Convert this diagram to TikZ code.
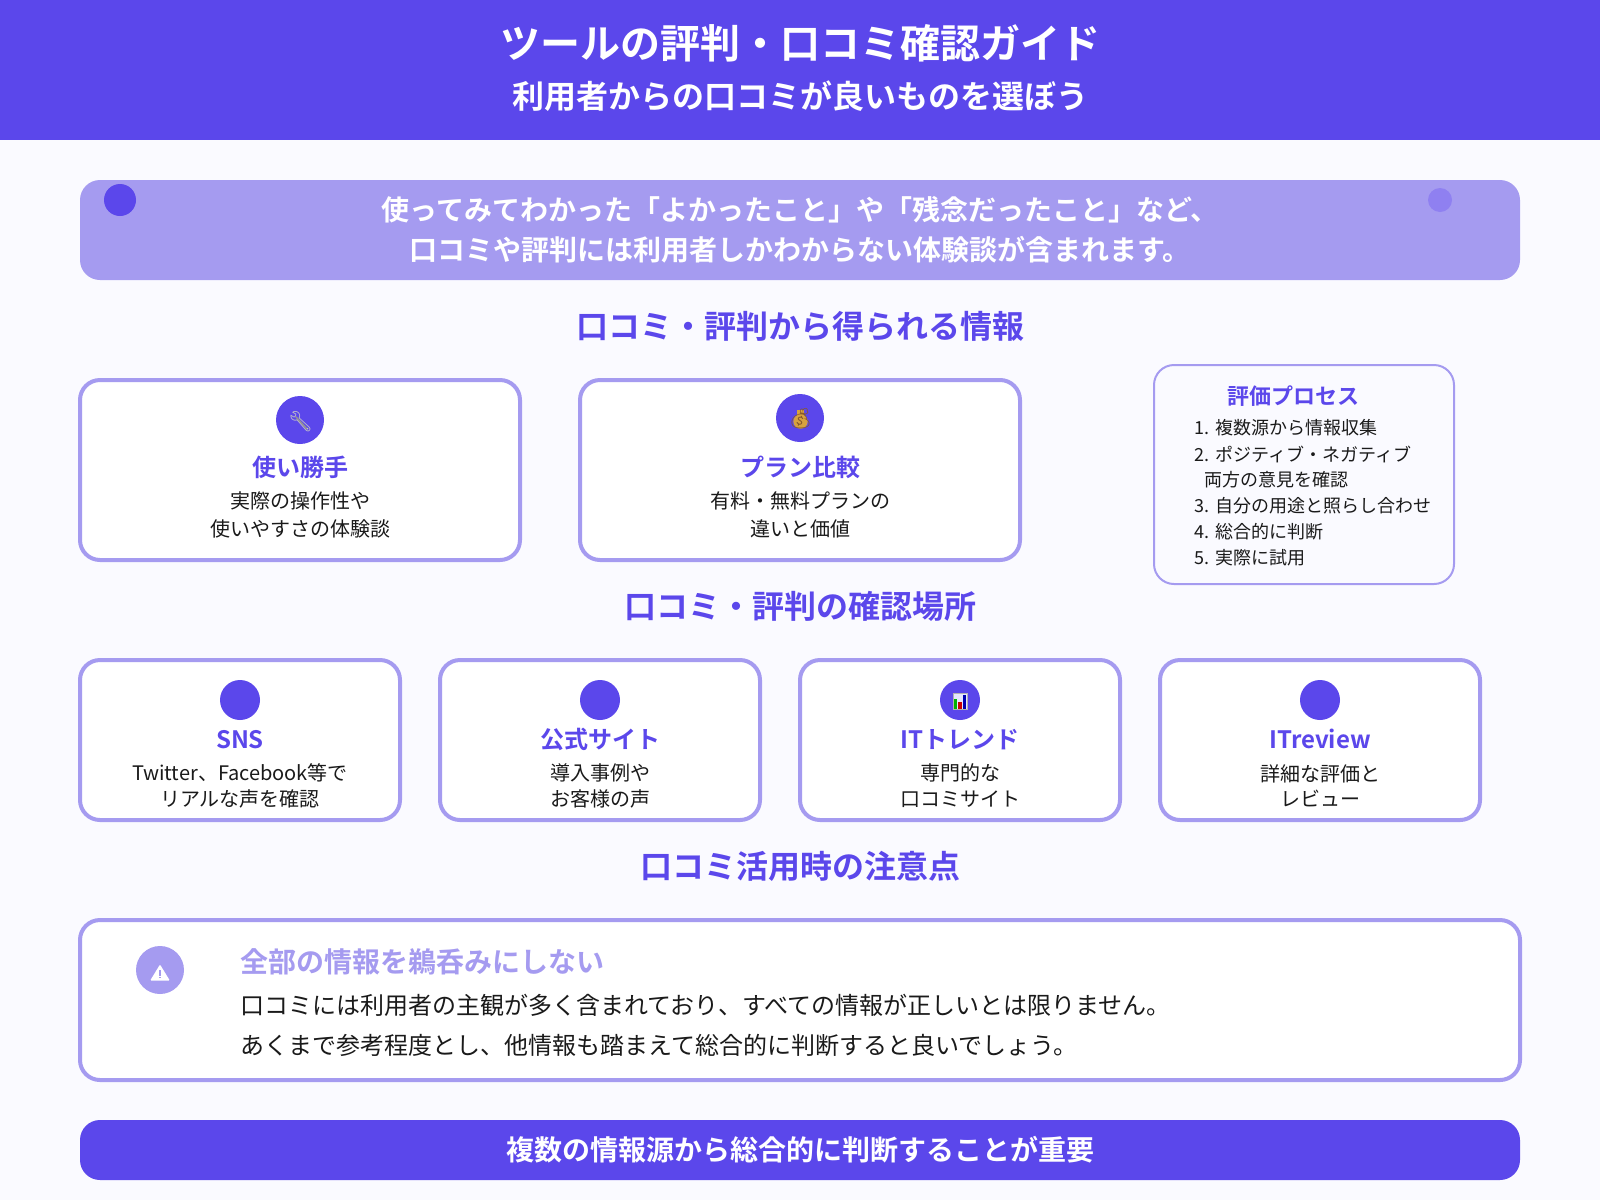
\documentclass[tikz,border=0pt]{standalone}
\usepackage{fontspec}
\setmainfont{Noto Sans CJK JP}[BoldFont={Noto Sans CJK JP Bold}]
\newfontfamily\emojifont{Noto Emoji}
\definecolor{mainblue}{HTML}{5B47EB}
\definecolor{softblue}{HTML}{A59BF0}
\definecolor{midblue}{HTML}{8F80F1}
\definecolor{pagebg}{HTML}{FAFAFF}
\definecolor{bodyink}{HTML}{1A1A1A}
\definecolor{baggold}{HTML}{D8A23E}
\begin{document}
\begin{tikzpicture}[x=0.5pt,y=-0.5pt,node distance=13pt,
    card/.style={draw=softblue,line width=2pt,fill=white,rounded corners=10pt,inner sep=0pt},
    bigcard/.style={card,minimum width=220pt,minimum height=90pt},
    smallcard/.style={card,minimum width=160pt,minimum height=80pt},
    bar/.style={rounded corners=10pt,inner sep=0pt,minimum width=720pt},
    icon/.style={circle,fill=mainblue,inner sep=0pt,minimum size=24pt},
    iconsmall/.style={icon,minimum size=20pt},
    section/.style={text=mainblue,font=\fontsize{16}{20}\selectfont\bfseries},
    cardtitle/.style={text=mainblue,font=\fontsize{12}{15}\selectfont\bfseries},
    bodybig/.style={text=bodyink,align=center,font=\fontsize{10}{14}\selectfont},
    bodysmall/.style={text=bodyink,align=center,font=\fontsize{10}{12.8}\selectfont},
    listline/.style={text=bodyink,anchor=west,inner sep=0pt,font=\fontsize{9}{11}\selectfont}]
  \useasboundingbox (0,0) rectangle (1600,1200);
  \fill[pagebg] (0,0) rectangle (1600,1200);

  % header
  \node [fill=mainblue,minimum width=800pt,minimum height=70pt,inner sep=0pt] (header) at (800,70) {};
  \node [text=white,font=\fontsize{20}{24}\selectfont\bfseries] (maintitle) at (800,43) {ツールの評判・口コミ確認ガイド};
  \node [text=white,font=\fontsize{16}{20}\selectfont\bfseries] (subtitle) at (800,96) {利用者からの口コミが良いものを選ぼう};

  % intro
  \node [bar,fill=softblue,minimum height=50pt] (intro) at (800,230) {};
  \node [circle,fill=mainblue,inner sep=0pt,minimum size=16pt] (dotleft) at (120,200) {};
  \node [circle,fill=midblue,inner sep=0pt,minimum size=12pt] (dotright) at (1440,200) {};
  \node [text=white,align=center,font=\fontsize{14}{20.2}\selectfont\bfseries] (introtext) at (800,230)
    {使ってみてわかった「よかったこと」や「残念だったこと」など、\\口コミや評判には利用者しかわからない体験談が含まれます。};

  % what you learn
  \node [section] (learn) at (800,326) {口コミ・評判から得られる情報};
  \node [bigcard] (usecard) at (300,470) {};
  \node [icon] (useicon) at (300,420) {};
  \draw[gray!85!white,line width=0.8pt,line cap=round] (296,417) -- (307,429);
  \node [text=gray!45!white,font=\fontsize{10}{10}\selectfont\emojifont] (useemoji) at (300.5,422) {🔧};
  \node [cardtitle] (usetitle) at (300,467) {使い勝手};
  \node [bodybig,below of=usetitle,yshift=-11pt] (usetext) {実際の操作性や\\使いやすさの体験談};
  \node [bigcard] (plancard) at (800,470) {};
  \node [icon] (planicon) at (800,418) {};
  \fill[baggold] (800.5,421.5) circle (3.6pt);
  \fill[baggold] (797,410) rectangle (804,416);
  \node [text=brown!70!black,font=\fontsize{10}{10}\selectfont\emojifont] (planemoji) at (800.5,419) {💰};
  \node [cardtitle] (plantitle) at (800,467) {プラン比較};
  \node [bodybig,below of=plantitle,yshift=-11pt] (plantext) {有料・無料プランの\\違いと価値};

  % process box
  \node [draw=softblue,line width=1pt,fill=pagebg,rounded corners=10pt,inner sep=0pt,minimum width=150pt,minimum height=109.5pt] (process) at (1304,474.5) {};
  \node [text=mainblue,font=\fontsize{11}{14}\selectfont\bfseries] (processtitle) at (1293,396) {評価プロセス};
  \node [listline] (stepa) at (1194.5,428) {1. 複数源から情報収集};
  \node [listline] (stepb) at (1194.5,454) {2. ポジティブ・ネガティブ};
  \node [listline] (stepc) at (1204,480) {両方の意見を確認};
  \node [listline] (stepd) at (1194.5,506) {3. 自分の用途と照らし合わせ};
  \node [listline] (stepe) at (1194.5,532) {4. 総合的に判断};
  \node [listline] (stepf) at (1194.5,558) {5. 実際に試用};

  % where to look
  \node [section] (where) at (800,606) {口コミ・評判の確認場所};
  \node [smallcard] (snscard) at (240,740) {};
  \node [iconsmall] (snsicon) at (240,700) {};
  \node [cardtitle] (snstitle) at (240,740) {SNS};
  \node [bodysmall,below of=snstitle,yshift=-9.8pt] (snstext) {Twitter、Facebook等で\\リアルな声を確認};
  \node [smallcard] (sitecard) at (600,740) {};
  \node [iconsmall] (siteicon) at (600,700) {};
  \node [cardtitle] (sitetitle) at (600,739) {公式サイト};
  \node [bodysmall,below of=sitetitle,yshift=-10.6pt] (sitetext) {導入事例や\\お客様の声};
  \node [smallcard] (trendcard) at (960,740) {};
  \node [iconsmall] (trendicon) at (960,700) {};
  \fill[white!90!blue,draw=gray!60,line width=0.3pt] (953,693) rectangle (967,709);
  \fill[green!70!black] (954,699) rectangle (957.3,709);
  \fill[red!80!black] (958.3,701.7) rectangle (961.7,709);
  \fill[blue!70!black] (963,695) rectangle (966.3,709);
  \node [cardtitle] (trendtitle) at (960,739.5) {ITトレンド};
  \node [bodysmall,below of=trendtitle,yshift=-10.1pt] (trendtext) {専門的な\\口コミサイト};
  \node [smallcard] (reviewcard) at (1320,740) {};
  \node [iconsmall] (reviewicon) at (1320,700) {};
  \node [cardtitle] (reviewtitle) at (1320,739) {ITreview};
  \node [bodysmall,below of=reviewtitle,yshift=-10.3pt] (reviewtext) {詳細な評価と\\レビュー};

  % caution
  \node [section] (caution) at (800,866) {口コミ活用時の注意点};
  \node [card,minimum width=720pt,minimum height=80pt] (warncard) at (800,1000) {};
  \node [icon,fill=softblue] (warnicon) at (160,970) {};
  \fill[white,rounded corners=0.5pt] (160,964.5) -- (169.8,980.5) -- (150.2,980.5) -- cycle;
  \fill[softblue] (159.2,969.5) rectangle (160.8,975.5);
  \fill[softblue] (159.2,976.8) rectangle (160.8,978.4);
  \node [anchor=west,inner sep=0pt,text=softblue,font=\fontsize{14}{18}\selectfont\bfseries] (warntitle) at (240,962) {全部の情報を鵜呑みにしない};
  \node [anchor=west,inner sep=0pt,text=bodyink,font=\fontsize{12}{15}\selectfont] (warnlinea) at (240,1005) {口コミには利用者の主観が多く含まれており、すべての情報が正しいとは限りません。};
  \node [anchor=west,inner sep=0pt,text=bodyink,font=\fontsize{12}{15}\selectfont] (warnlineb) at (240,1045) {あくまで参考程度とし、他情報も踏まえて総合的に判断すると良いでしょう。};

  % closing bar
  \node [bar,fill=mainblue,minimum height=30pt,text=white,font=\fontsize{14}{18}\selectfont\bfseries] (closing) at (800,1150) {複数の情報源から総合的に判断することが重要};
\end{tikzpicture}
\end{document}
